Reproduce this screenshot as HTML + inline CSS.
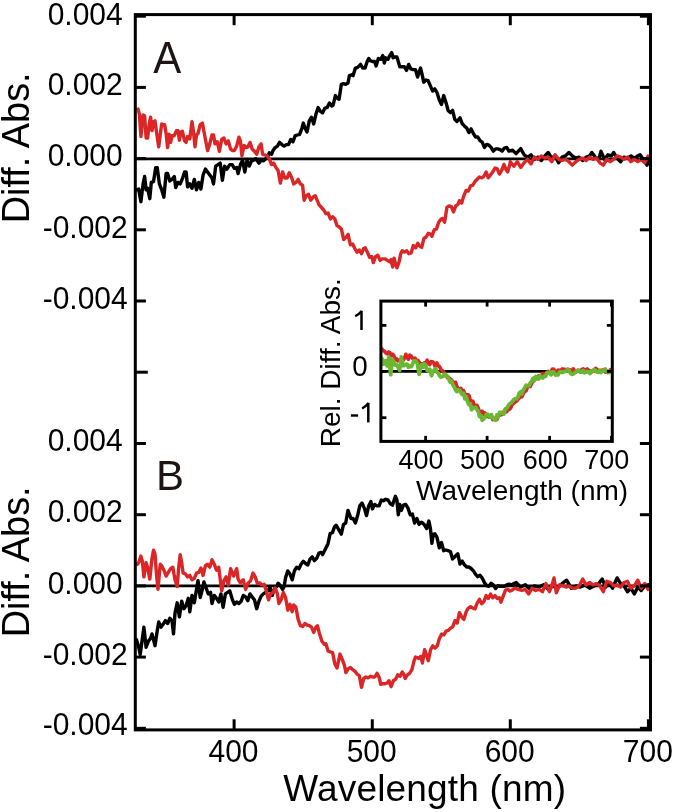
<!DOCTYPE html>
<html><head><meta charset="utf-8"><style>
html,body{margin:0;padding:0;background:#fff;}
body{width:675px;height:812px;overflow:hidden;}
svg{display:block;will-change:transform;}
text{font-family:"Liberation Sans",sans-serif;fill:#000;}
.t30{font-size:30px;}
.t37{font-size:37px;}
.t37b{font-size:37.9px;}
.t27{font-size:27px;}
.t42{font-size:42px;fill:#1e1414;}
.t28{font-size:28px;}
</style></head><body>
<svg width="675" height="812" viewBox="0 0 675 812">
<line x1="135.3" y1="158.8" x2="650.5" y2="158.8" stroke="#000" stroke-width="2.8"/>
<line x1="135.3" y1="585.8" x2="650.5" y2="585.8" stroke="#000" stroke-width="2.8"/>
<polyline points="136.5,189.8 138.7,189.1 140.9,201.7 143.1,183.9 144.6,176.5 146.1,189.8 147.6,188.3 149.8,198.7 151.3,182.4 153.5,181.7 155.7,167.6 157.2,167.6 159.4,183.9 161.7,189.8 163.9,197.2 166.1,173.5 167.6,173.5 169.8,180.9 172.0,179.4 174.3,176.5 175.7,187.6 178.0,182.4 180.2,183.9 182.4,178.7 184.6,172.0 186.1,172.0 187.6,186.9 189.8,183.9 192.0,188.3 194.3,179.4 196.5,189.8 198.7,182.4 200.9,189.1 203.1,175.0 205.4,169.1 207.6,172.0 209.8,175.0 212.0,178.0 213.5,183.9 215.7,166.1 218.0,164.6 220.2,163.1 222.4,180.2 224.6,166.1 226.9,169.1 229.8,164.6 232.2,164.6 234.4,168.3 236.7,167.6 238.1,173.5 240.4,164.6 242.6,160.2 244.8,172.0 247.0,160.2 249.3,166.1 251.5,160.9 253.7,160.2 255.9,158.7 258.9,163.1 261.1,160.2 263.3,160.9 265.6,158.7 267.8,156.5 269.3,152.8 271.5,154.3 273.0,150.6 275.2,147.6 277.4,146.1 279.6,142.4 281.9,144.6 284.1,146.1 286.3,144.6 288.5,144.6 290.7,139.4 293.0,141.7 295.2,135.7 297.4,135.0 299.6,134.3 301.9,128.3 303.3,123.1 304.8,127.6 307.0,132.0 309.3,120.9 311.5,117.2 313.7,123.9 315.9,114.3 318.1,107.6 320.4,111.3 322.6,112.8 324.8,108.3 327.2,107.4 329.4,103.0 331.7,105.9 333.1,105.2 335.4,95.6 337.6,98.5 339.1,99.3 341.3,84.4 343.5,83.7 345.7,84.4 348.0,83.0 349.4,75.6 351.7,74.8 353.1,75.6 355.4,68.1 357.6,67.4 360.6,64.4 362.8,68.1 365.0,68.1 367.2,61.5 368.7,58.5 370.2,60.7 372.4,61.5 374.6,61.5 376.1,65.9 378.3,58.5 380.6,59.3 382.8,55.6 384.3,63.0 385.7,57.8 388.0,59.3 389.4,56.3 391.7,52.6 393.1,57.8 394.6,57.0 396.9,57.0 398.3,61.5 399.8,66.7 402.0,66.7 404.3,66.7 406.5,70.4 408.7,64.4 410.9,68.9 413.1,69.6 415.4,69.6 417.6,77.0 419.1,71.9 420.6,68.1 422.2,74.8 423.7,82.2 425.9,80.0 428.1,80.7 430.4,85.9 432.6,91.1 434.8,88.9 437.0,92.6 439.3,100.0 441.5,104.4 443.7,95.6 445.9,102.2 448.1,110.4 450.4,112.6 452.6,110.4 454.8,119.3 457.0,121.5 460.0,117.8 462.2,123.7 464.4,125.9 466.7,128.1 468.9,132.6 471.1,128.9 473.3,133.3 475.6,137.0 477.8,137.0 480.0,140.7 482.2,142.2 484.4,147.4 486.7,144.4 488.9,145.2 491.1,147.4 493.3,151.1 495.6,148.9 497.8,148.9 500.0,149.6 502.2,151.1 504.4,148.1 506.7,147.4 508.9,151.1 512.6,150.2 516.1,153.6 520.7,148.6 524.1,154.8 527.6,157.1 531.0,154.8 534.4,159.4 537.9,157.1 541.3,160.5 544.8,155.9 548.2,152.5 551.7,158.2 555.1,155.9 558.6,162.8 562.0,157.1 565.4,155.9 568.9,152.5 572.3,155.9 575.8,158.2 579.2,157.1 582.7,160.5 586.1,157.1 589.6,155.9 591.8,152.5 595.3,157.1 598.7,159.4 601.0,151.3 604.5,159.4 607.9,154.8 611.4,155.9 613.7,152.5 617.1,158.2 620.6,161.7 624.0,157.1 627.4,158.2 630.9,155.9 634.3,158.2 637.8,155.9 640.1,154.8 643.5,159.4 647.0,165.1 648.8,160.5" fill="none" stroke="#000" stroke-width="3.4" stroke-linejoin="round" stroke-linecap="round"/>
<polyline points="138.0,109.1 139.4,114.3 140.9,136.5 143.1,115.0 144.6,115.7 146.1,138.0 147.6,138.0 149.1,124.6 150.6,117.2 152.0,130.6 153.5,121.7 155.0,120.9 156.5,132.0 158.7,146.9 160.2,135.0 161.7,123.9 163.1,124.6 164.6,124.6 166.1,133.5 167.6,147.6 169.1,134.3 170.6,142.4 172.0,135.7 174.3,135.7 176.5,130.6 178.0,130.6 179.4,140.2 180.9,132.0 182.4,131.3 184.6,140.9 186.1,142.4 187.6,136.5 189.8,138.7 192.0,121.7 193.5,132.0 195.0,146.9 196.5,135.0 198.0,133.5 200.2,124.6 202.4,123.1 204.6,135.0 207.6,150.6 209.8,143.9 212.0,135.0 213.5,135.0 215.0,143.9 217.2,141.7 219.4,151.3 221.7,139.4 223.9,138.0 226.1,143.9 228.3,140.9 230.6,149.1 232.2,150.6 234.4,150.6 236.7,146.1 238.9,137.2 240.4,140.9 241.9,155.7 244.1,145.4 246.3,147.6 247.8,146.9 250.0,142.4 252.2,149.1 254.4,151.3 256.7,154.3 258.9,146.9 261.1,143.9 262.6,154.3 264.8,155.0 267.0,155.7 269.3,158.7 271.5,164.6 273.7,163.1 275.9,167.6 278.1,170.6 280.4,183.1 282.6,172.0 284.8,178.0 287.0,178.0 289.3,172.8 291.5,177.2 293.7,183.9 295.9,182.4 298.1,179.4 300.4,183.9 302.6,185.4 304.1,200.2 306.3,195.7 308.5,194.3 310.7,200.2 313.0,197.2 315.2,195.7 317.4,200.9 318.9,204.6 323.7,210.0 325.9,213.7 328.1,213.0 330.4,218.9 332.6,216.7 334.8,218.9 337.0,225.6 339.3,227.0 341.5,229.3 343.7,239.6 345.9,237.4 348.1,234.4 350.4,244.8 352.6,244.1 354.8,248.5 357.0,252.2 359.3,250.0 361.5,253.7 363.7,248.5 365.2,247.8 367.4,252.2 369.6,257.4 371.9,256.7 373.3,262.6 375.6,256.7 377.8,255.2 380.0,260.4 382.2,258.9 385.2,258.9 387.4,260.4 389.6,261.9 391.1,259.6 392.6,267.0 394.1,258.1 395.6,264.1 397.0,267.8 399.3,261.1 400.7,253.7 402.2,250.7 404.4,252.2 406.7,250.7 408.9,253.7 411.1,253.0 413.3,245.6 415.6,247.8 417.8,243.3 419.4,245.9 421.7,247.4 423.9,238.5 426.1,237.0 428.3,233.3 430.6,234.1 432.0,236.3 434.3,229.6 436.5,228.9 438.7,222.2 440.9,219.3 442.4,218.5 444.6,222.2 446.9,207.4 449.1,205.9 451.3,206.7 453.5,211.9 455.7,205.9 458.0,204.4 459.4,200.7 461.7,203.0 463.9,195.6 466.1,190.4 468.3,191.1 470.6,185.9 472.8,185.2 475.0,181.5 477.2,179.3 479.4,177.0 481.7,177.8 483.9,176.3 486.1,171.9 488.3,177.8 490.6,174.8 492.8,171.9 495.0,168.1 497.2,168.9 499.4,174.1 501.7,170.4 503.9,164.4 506.1,169.6 507.6,171.9 509.8,164.4 510.3,161.7 513.8,166.3 517.2,161.7 520.7,167.4 524.1,162.8 527.6,159.4 531.0,164.0 534.4,157.1 537.9,159.4 541.3,155.9 544.8,158.2 548.2,157.1 551.7,161.7 555.1,154.8 558.6,159.4 562.0,160.5 565.4,159.4 568.9,161.7 572.3,165.1 575.8,161.7 579.2,159.4 582.7,158.2 586.1,160.5 589.6,157.1 593.0,159.4 596.4,158.2 599.9,162.8 603.3,165.1 606.8,159.4 610.2,161.7 613.7,159.4 617.1,155.9 620.6,157.1 624.0,159.4 627.4,157.1 630.9,161.7 634.3,159.4 637.8,161.7 641.2,159.4 644.7,162.8 648.1,155.9" fill="none" stroke="#da2626" stroke-width="3.4" stroke-linejoin="round" stroke-linecap="round"/>
<polyline points="136.5,639.8 138.7,647.2 140.2,654.6 142.4,638.3 143.9,627.2 146.1,647.2 148.3,641.3 150.6,638.3 152.0,633.9 153.5,639.8 155.0,645.7 157.2,630.9 158.7,622.0 160.9,627.2 163.1,624.3 165.4,620.6 167.6,623.5 169.8,618.3 172.0,620.6 173.5,633.9 175.0,613.1 177.2,602.8 179.4,616.9 181.7,601.3 183.9,608.7 186.1,605.7 188.3,598.3 189.8,611.7 192.0,595.4 194.3,602.8 196.5,589.4 198.0,580.6 200.2,597.6 202.4,589.4 203.9,582.0 206.1,588.0 208.3,593.9 210.6,592.4 212.0,603.5 214.3,595.4 216.5,598.3 218.7,602.0 220.9,593.9 223.1,607.2 225.4,593.9 227.6,592.4 229.8,590.9 232.2,599.1 234.4,604.3 236.7,602.0 238.9,603.5 241.1,601.3 243.3,595.4 245.6,596.9 247.8,600.6 250.0,593.9 252.2,596.9 254.4,599.8 256.7,608.7 258.9,601.3 261.1,596.1 263.3,593.9 265.6,592.4 267.8,590.9 270.0,587.2 272.2,595.4 274.4,588.7 276.7,586.5 278.1,583.2 280.4,585.7 282.6,589.4 284.1,586.5 285.6,577.6 287.8,570.9 290.0,573.9 292.2,579.8 294.4,570.9 296.7,567.2 298.9,568.7 301.1,564.3 303.3,561.3 305.6,563.5 307.8,565.0 310.0,559.1 312.2,556.9 314.4,560.6 316.7,558.3 318.9,553.1 321.1,552.4 322.6,554.6 324.8,550.2 328.0,543.7 330.2,533.3 332.4,532.6 334.6,526.7 336.1,525.2 338.3,528.9 341.3,534.1 343.5,524.4 345.7,523.0 348.0,510.4 349.4,514.1 350.9,518.5 353.1,518.5 355.4,523.0 357.6,515.6 359.8,505.9 362.0,503.0 364.3,508.1 366.5,515.6 368.7,505.9 370.9,501.5 372.4,508.9 374.6,504.4 376.9,505.9 379.1,505.9 381.3,500.0 383.5,500.7 385.7,499.3 388.0,500.0 390.2,503.7 392.4,505.2 393.9,500.7 395.4,496.3 396.9,500.0 398.3,514.8 399.8,504.4 401.3,510.4 403.5,505.2 405.7,504.4 408.0,508.1 410.2,514.8 412.4,514.1 414.6,523.0 416.9,518.5 419.1,524.4 421.3,522.2 422.2,522.6 424.4,524.8 426.7,528.5 428.9,521.1 430.4,528.5 431.9,543.3 433.3,534.4 434.8,533.7 437.0,537.4 439.3,547.8 441.5,542.6 443.7,550.7 445.9,550.0 448.1,550.7 450.4,551.5 452.6,558.9 454.8,556.7 457.8,553.7 460.0,564.1 462.2,561.1 464.4,564.8 466.7,567.0 468.9,567.0 471.1,568.5 473.3,570.7 475.6,574.4 477.8,576.7 480.0,575.2 482.2,578.1 484.4,582.6 486.7,585.6 488.9,586.3 491.1,583.3 493.3,584.8 495.6,588.5 497.8,585.6 500.0,586.3 502.2,586.3 504.4,586.3 506.7,584.8 508.9,584.1 511.5,584.8 516.1,582.5 520.7,587.1 525.3,584.8 529.9,589.4 534.4,585.9 539.0,587.1 543.6,584.8 548.2,589.4 552.8,585.9 557.4,588.2 562.0,583.6 566.6,580.2 571.2,588.2 575.8,585.9 580.4,587.1 585.0,584.8 589.6,588.2 594.1,585.9 598.7,583.6 602.2,579.0 605.6,587.1 609.1,582.5 612.5,588.2 617.1,577.9 620.6,583.6 624.0,585.9 627.4,591.7 630.9,588.2 634.3,594.0 637.8,587.1 641.2,590.5 644.7,585.9 648.1,584.8" fill="none" stroke="#000" stroke-width="3.4" stroke-linejoin="round" stroke-linecap="round"/>
<polyline points="137.2,564.3 138.7,562.8 140.9,556.1 142.4,561.3 143.9,576.9 146.1,562.8 147.6,567.2 149.8,579.1 152.0,558.3 153.5,550.2 155.0,553.9 156.5,574.6 158.0,589.4 160.2,564.3 161.7,565.7 163.9,570.2 166.1,576.1 168.3,572.4 170.6,568.7 172.8,567.2 175.0,579.8 177.2,586.5 178.7,567.2 180.2,554.6 181.7,562.8 183.1,573.1 185.4,573.9 187.6,576.9 189.8,575.4 192.0,579.8 194.3,578.3 196.5,573.1 198.7,572.4 200.9,568.0 203.1,575.4 205.4,565.7 207.6,564.3 209.8,567.2 212.0,559.8 214.3,564.3 216.5,570.2 218.7,567.2 220.2,579.1 221.7,590.9 223.9,580.6 226.1,576.9 228.3,585.0 230.6,568.7 233.7,576.1 236.7,568.7 238.1,579.1 240.4,582.8 243.3,579.8 245.6,589.4 247.8,583.5 250.7,580.6 253.0,573.1 255.2,576.9 257.4,583.5 259.6,582.8 261.9,585.0 264.1,584.3 266.3,590.9 268.5,599.8 270.7,593.9 273.0,592.4 275.2,588.0 277.4,593.9 278.9,603.5 281.1,599.8 283.3,592.4 285.6,597.6 287.8,610.2 290.0,604.3 292.2,611.7 293.7,605.0 295.9,607.2 298.1,619.1 300.4,625.7 302.6,626.5 304.8,623.5 307.0,625.0 309.3,625.7 311.5,627.2 313.7,632.4 315.9,627.2 317.4,625.7 319.6,633.9 321.9,641.3 322.2,641.5 324.4,644.4 325.9,643.7 328.1,651.1 330.4,651.9 332.6,652.6 334.8,663.7 337.0,668.1 340.0,654.1 342.2,659.3 344.4,665.2 345.9,672.6 348.1,668.9 350.4,667.4 352.6,669.6 354.8,671.1 357.0,674.1 359.3,675.6 361.5,687.4 363.7,678.5 365.9,677.0 368.1,677.8 370.4,676.3 372.6,677.0 374.8,677.0 377.0,673.3 379.3,677.8 380.7,684.4 383.0,683.7 385.2,683.7 387.4,683.0 388.9,680.7 391.1,686.7 393.3,680.7 395.6,679.3 397.8,674.8 400.0,676.3 402.2,671.9 403.7,674.1 405.2,678.5 407.4,674.8 409.6,673.3 411.9,669.6 414.1,660.7 415.6,657.0 417.8,657.8 418.7,658.5 420.9,656.3 422.4,663.0 424.6,649.6 426.1,654.1 428.3,660.7 430.6,649.6 432.8,645.9 435.0,648.1 437.2,645.9 439.4,638.5 441.7,634.1 443.9,634.8 446.1,631.1 448.3,630.4 450.6,628.1 452.8,626.7 455.0,620.7 457.2,623.0 459.4,612.6 461.7,617.0 463.9,619.3 466.1,611.9 468.3,608.1 470.6,606.7 472.8,608.1 475.0,608.9 477.2,603.0 479.4,599.3 481.7,603.7 483.9,601.5 486.1,595.6 488.3,598.5 490.6,594.1 492.8,597.8 495.0,595.6 497.2,598.5 499.4,597.8 500.9,602.2 503.1,596.3 505.4,590.4 507.6,588.9 509.8,591.1 511.5,590.5 514.9,588.2 518.4,589.4 521.8,590.5 525.3,589.4 528.7,594.0 532.1,588.2 535.6,590.5 539.0,589.4 542.5,591.7 545.9,583.6 549.4,591.7 551.7,585.9 554.0,577.9 556.3,592.8 559.7,584.8 563.1,585.9 566.6,587.1 568.9,585.9 572.3,588.2 575.8,588.2 579.2,585.9 582.7,579.0 586.1,584.8 589.6,582.5 593.0,584.8 596.4,583.6 599.9,585.9 603.3,591.7 606.8,581.3 610.2,582.5 613.7,585.9 617.1,584.8 620.6,587.1 624.0,582.5 627.4,581.3 630.9,588.2 634.3,585.9 637.8,580.2 641.2,588.2 644.7,583.6 648.1,589.4" fill="none" stroke="#da2626" stroke-width="3.4" stroke-linejoin="round" stroke-linecap="round"/>
<rect x="135.3" y="14.6" width="515.2" height="715.3" fill="none" stroke="#000" stroke-width="3.0"/>
<line x1="135.3" y1="16.2" x2="145.9" y2="16.2" stroke="#000" stroke-width="3"/>
<line x1="639.9" y1="16.2" x2="650.5" y2="16.2" stroke="#000" stroke-width="3"/>
<line x1="135.3" y1="87.4" x2="145.9" y2="87.4" stroke="#000" stroke-width="3"/>
<line x1="639.9" y1="87.4" x2="650.5" y2="87.4" stroke="#000" stroke-width="3"/>
<line x1="135.3" y1="158.6" x2="145.9" y2="158.6" stroke="#000" stroke-width="3"/>
<line x1="639.9" y1="158.6" x2="650.5" y2="158.6" stroke="#000" stroke-width="3"/>
<line x1="135.3" y1="229.8" x2="145.9" y2="229.8" stroke="#000" stroke-width="3"/>
<line x1="639.9" y1="229.8" x2="650.5" y2="229.8" stroke="#000" stroke-width="3"/>
<line x1="135.3" y1="301.0" x2="145.9" y2="301.0" stroke="#000" stroke-width="3"/>
<line x1="639.9" y1="301.0" x2="650.5" y2="301.0" stroke="#000" stroke-width="3"/>
<line x1="135.3" y1="372.2" x2="147.8" y2="372.2" stroke="#000" stroke-width="3"/>
<line x1="638.0" y1="372.2" x2="650.5" y2="372.2" stroke="#000" stroke-width="3"/>
<line x1="135.3" y1="443.5" x2="145.9" y2="443.5" stroke="#000" stroke-width="3"/>
<line x1="639.9" y1="443.5" x2="650.5" y2="443.5" stroke="#000" stroke-width="3"/>
<line x1="135.3" y1="514.7" x2="145.9" y2="514.7" stroke="#000" stroke-width="3"/>
<line x1="639.9" y1="514.7" x2="650.5" y2="514.7" stroke="#000" stroke-width="3"/>
<line x1="135.3" y1="585.9" x2="145.9" y2="585.9" stroke="#000" stroke-width="3"/>
<line x1="639.9" y1="585.9" x2="650.5" y2="585.9" stroke="#000" stroke-width="3"/>
<line x1="135.3" y1="657.1" x2="145.9" y2="657.1" stroke="#000" stroke-width="3"/>
<line x1="639.9" y1="657.1" x2="650.5" y2="657.1" stroke="#000" stroke-width="3"/>
<line x1="135.3" y1="728.3" x2="145.9" y2="728.3" stroke="#000" stroke-width="3"/>
<line x1="639.9" y1="728.3" x2="650.5" y2="728.3" stroke="#000" stroke-width="3"/>
<line x1="234.1" y1="14.6" x2="234.1" y2="25.2" stroke="#000" stroke-width="3"/>
<line x1="234.1" y1="719.3" x2="234.1" y2="729.9" stroke="#000" stroke-width="3"/>
<line x1="372.3" y1="14.6" x2="372.3" y2="25.2" stroke="#000" stroke-width="3"/>
<line x1="372.3" y1="719.3" x2="372.3" y2="729.9" stroke="#000" stroke-width="3"/>
<line x1="510.3" y1="14.6" x2="510.3" y2="25.2" stroke="#000" stroke-width="3"/>
<line x1="510.3" y1="719.3" x2="510.3" y2="729.9" stroke="#000" stroke-width="3"/>
<line x1="648.4" y1="14.6" x2="648.4" y2="25.2" stroke="#000" stroke-width="3"/>
<line x1="648.4" y1="719.3" x2="648.4" y2="729.9" stroke="#000" stroke-width="3"/>
<text transform="translate(85.2 24.9) scale(1 1.05)" text-anchor="middle" class="t30">0.004</text>
<text transform="translate(85.2 95.1) scale(1 1.05)" text-anchor="middle" class="t30">0.002</text>
<text transform="translate(85.2 166.3) scale(1 1.05)" text-anchor="middle" class="t30">0.000</text>
<text transform="translate(85.2 237.5) scale(1 1.05)" text-anchor="middle" class="t30">-0.002</text>
<text transform="translate(85.2 308.5) scale(1 1.05)" text-anchor="middle" class="t30">-0.004</text>
<text transform="translate(85.2 451.3) scale(1 1.05)" text-anchor="middle" class="t30">0.004</text>
<text transform="translate(85.2 522.4) scale(1 1.05)" text-anchor="middle" class="t30">0.002</text>
<text transform="translate(85.2 593.6) scale(1 1.05)" text-anchor="middle" class="t30">0.000</text>
<text transform="translate(85.2 664.7) scale(1 1.05)" text-anchor="middle" class="t30">-0.002</text>
<text transform="translate(85.2 735.4) scale(1 1.05)" text-anchor="middle" class="t30">-0.004</text>
<text transform="translate(233.5 762) scale(1 1.05)" text-anchor="middle" class="t30">400</text>
<text transform="translate(371.7 762) scale(1 1.05)" text-anchor="middle" class="t30">500</text>
<text transform="translate(509.7 762) scale(1 1.05)" text-anchor="middle" class="t30">600</text>
<text transform="translate(647.8 762) scale(1 1.05)" text-anchor="middle" class="t30">700</text>
<text x="283.3" y="801" class="t37" letter-spacing="0.17">Wavelength (nm)</text>
<text transform="translate(29 223.3) rotate(-90)" x="0" y="0" class="t37b">Diff. Abs.</text>
<text transform="translate(29 637.3) rotate(-90)" x="0" y="0" class="t37b">Diff. Abs.</text>
<text transform="translate(153.3 73) scale(1 1.04)" class="t42">A</text>
<text x="156" y="490" class="t42">B</text>
<line x1="380.9" y1="371.4" x2="612.3" y2="371.4" stroke="#000" stroke-width="2.8"/>
<polyline points="381.8,348.8 383.1,350.8 384.4,351.1 385.8,352.8 387.1,353.8 388.4,352.1 389.8,352.4 391.1,355.9 392.4,354.2 393.8,355.4 395.1,359.7 396.4,358.6 397.8,360.8 399.1,359.9 400.4,361.0 401.8,358.7 403.1,360.1 404.4,358.3 405.8,354.3 407.1,357.4 408.4,359.3 409.8,355.2 411.1,356.1 412.4,358.1 413.8,359.7 415.1,358.2 416.4,360.9 417.8,360.3 419.1,362.2 420.4,363.7 421.8,363.9 423.1,364.7 424.4,362.7 425.8,362.9 427.1,360.2 428.4,363.4 429.8,364.6 431.1,361.6 432.4,361.7 433.8,362.9 435.1,366.7 436.9,362.9 438.2,365.8 439.6,366.8 440.9,369.4 442.2,370.7 443.6,371.9 444.9,374.1 446.2,375.4 447.6,378.0 448.9,377.6 450.2,379.0 451.6,380.0 452.9,381.9 454.2,382.4 455.6,382.3 456.9,386.7 458.2,388.9 459.6,389.1 460.9,388.3 462.2,390.6 463.6,390.5 464.9,394.1 466.2,394.5 467.6,394.7 468.9,395.2 470.2,400.0 471.6,402.3 472.9,401.1 474.2,406.0 475.6,405.4 476.9,405.3 478.2,408.1 479.6,412.1 480.9,413.4 482.2,411.2 483.6,414.2 484.9,412.9 486.2,416.4 487.6,415.8 488.8,417.2 490.0,416.8 491.4,416.4 492.8,419.7 494.2,418.4 495.6,418.9 496.9,419.5 498.3,416.0 499.7,415.2 501.1,414.7 502.5,414.3 503.9,411.4 505.3,409.8 506.7,411.8 508.1,408.3 509.4,409.3 510.8,407.7 512.2,404.4 513.6,403.3 515.0,402.1 516.4,401.2 517.8,399.6 519.2,398.1 520.6,396.9 521.9,396.8 523.3,393.7 524.7,391.6 526.1,390.8 527.5,387.2 528.9,385.5 530.3,386.5 531.7,383.1 533.1,381.6 534.4,378.0 535.8,378.8 537.2,378.7 538.6,375.9 540.0,377.5 541.4,376.6 542.8,373.5 544.2,374.7 545.6,373.2 546.9,373.3 548.3,371.4 549.7,372.0 551.1,371.5 552.5,369.0 553.9,369.3 555.3,371.9 556.7,373.2 558.1,370.1 559.4,370.4 560.8,370.4 562.2,368.9 563.6,369.3 565.0,369.4 566.4,369.8 567.8,370.9 569.2,369.8 570.6,370.1 571.9,371.6 573.3,368.8 574.7,371.1 576.1,371.9 577.5,370.5 578.9,370.4 580.3,372.2 581.7,369.6 583.1,368.9 584.4,369.4 585.8,370.8 587.2,369.0 588.6,370.3 590.0,370.8 591.4,372.3 592.8,370.3 594.2,371.4 595.6,368.4 596.9,369.2 598.3,370.7 599.7,371.8 601.1,370.4 602.5,370.0 603.9,370.0 605.3,372.1 606.7,371.2 607.9,372.6 609.1,371.8 610.4,369.6" fill="none" stroke="#da2626" stroke-width="3.6" stroke-linejoin="round" stroke-linecap="round"/>
<polyline points="381.8,358.3 383.6,364.1 385.3,360.8 387.1,365.9 388.9,357.0 390.7,374.7 392.4,359.4 393.8,362.1 395.1,365.0 396.4,364.6 397.8,366.6 399.6,370.4 401.3,356.8 403.1,365.6 404.4,365.5 405.8,364.3 407.1,364.2 408.4,367.3 409.8,365.7 411.1,366.6 412.4,364.7 413.8,360.8 415.6,360.8 417.3,363.4 419.1,374.3 420.4,368.7 421.8,364.6 423.1,367.3 424.4,363.7 425.8,365.5 427.1,370.5 428.4,370.9 429.8,369.3 431.6,375.7 432.9,371.7 434.2,370.1 435.6,368.5 436.9,372.1 438.2,372.8 439.6,375.7 440.9,377.2 442.2,376.5 443.6,375.9 444.9,374.2 446.2,375.4 447.6,376.4 448.9,379.2 450.2,382.2 451.6,381.0 452.9,385.2 454.2,386.9 455.6,389.9 456.9,391.6 458.2,389.7 459.6,390.3 460.9,392.4 462.2,394.6 463.6,393.3 464.9,398.9 466.2,396.7 467.6,401.9 468.9,404.6 470.2,403.8 471.6,409.7 472.9,407.4 474.2,407.9 475.6,407.3 476.9,409.2 478.2,411.5 479.6,416.6 480.9,415.6 482.2,420.2 483.6,419.1 484.9,417.4 486.2,414.5 487.6,414.1 488.8,415.4 490.0,417.1 491.4,414.7 492.8,417.9 494.2,419.0 495.6,420.2 496.9,414.9 498.3,416.9 499.7,412.4 501.1,412.5 502.5,413.2 503.9,414.0 505.3,408.8 506.7,408.4 508.1,405.9 509.4,404.0 510.8,403.1 512.2,401.6 513.6,399.8 515.0,398.7 516.4,398.7 517.8,397.6 519.2,393.2 520.6,391.8 521.9,393.9 523.3,390.1 524.7,387.8 526.1,385.2 527.5,385.8 528.9,385.8 530.3,382.9 531.7,381.3 533.1,378.4 534.4,380.6 535.8,376.5 537.2,377.9 538.6,378.9 540.0,375.5 541.4,377.5 542.8,378.0 544.2,376.2 545.6,376.4 546.9,372.6 548.3,373.1 549.7,371.9 551.1,374.8 552.5,372.0 553.9,372.2 555.3,375.0 556.7,374.8 558.1,374.9 559.4,372.2 560.8,371.9 562.2,372.4 563.6,371.9 565.0,371.5 566.4,371.1 567.8,369.1 569.2,370.5 570.6,373.5 571.9,374.3 573.3,373.9 574.7,372.9 576.1,371.7 577.5,370.2 578.9,370.5 580.3,372.2 581.7,372.1 583.1,370.4 584.4,372.7 585.8,372.2 587.2,371.4 588.6,372.2 590.0,373.5 591.4,370.9 592.8,371.4 594.2,369.6 595.6,370.5 596.9,372.2 598.3,372.3 599.7,370.2 601.1,372.4 602.5,371.2 603.9,370.9 605.3,369.0 606.7,371.7 608.1,370.9 609.4,372.4" fill="none" stroke="#6ab732" stroke-width="3.8" stroke-linejoin="round" stroke-linecap="round"/>
<rect x="380.9" y="301.1" width="231.39999999999998" height="140.29999999999995" fill="none" stroke="#000" stroke-width="3"/>
<line x1="380.9" y1="325.4" x2="386.4" y2="325.4" stroke="#000" stroke-width="2.8"/>
<line x1="606.8" y1="325.4" x2="612.3" y2="325.4" stroke="#000" stroke-width="2.8"/>
<line x1="380.9" y1="371.4" x2="386.4" y2="371.4" stroke="#000" stroke-width="2.8"/>
<line x1="606.8" y1="371.4" x2="612.3" y2="371.4" stroke="#000" stroke-width="2.8"/>
<line x1="380.9" y1="417.7" x2="386.4" y2="417.7" stroke="#000" stroke-width="2.8"/>
<line x1="606.8" y1="417.7" x2="612.3" y2="417.7" stroke="#000" stroke-width="2.8"/>
<line x1="425.6" y1="301.1" x2="425.6" y2="306.6" stroke="#000" stroke-width="2.8"/>
<line x1="425.6" y1="435.9" x2="425.6" y2="441.4" stroke="#000" stroke-width="2.8"/>
<line x1="487.1" y1="301.1" x2="487.1" y2="306.6" stroke="#000" stroke-width="2.8"/>
<line x1="487.1" y1="435.9" x2="487.1" y2="441.4" stroke="#000" stroke-width="2.8"/>
<line x1="549.6" y1="301.1" x2="549.6" y2="306.6" stroke="#000" stroke-width="2.8"/>
<line x1="549.6" y1="435.9" x2="549.6" y2="441.4" stroke="#000" stroke-width="2.8"/>
<line x1="611.4" y1="301.1" x2="611.4" y2="306.6" stroke="#000" stroke-width="2.8"/>
<line x1="611.4" y1="435.9" x2="611.4" y2="441.4" stroke="#000" stroke-width="2.8"/>
<text transform="translate(360 376) scale(1.03 1.08)" text-anchor="middle" class="t27">0</text>
<path d="M361.5 330.0V310.8" stroke="#000" stroke-width="2.5" fill="none"/><path d="M361.7 311.0Q359.3 314.1 355.2 316.3" stroke="#000" stroke-width="2.3" fill="none"/>
<path d="M368.3 422.4V402.8" stroke="#000" stroke-width="2.5" fill="none"/><path d="M368.5 403.0Q366.1 406.3 362.1 408.5" stroke="#000" stroke-width="2.3" fill="none"/>
<rect x="350.9" y="414.3" width="7.2" height="2.4" fill="#000"/>
<text transform="translate(421 468.7) scale(1 1.05)" text-anchor="middle" class="t27">400</text>
<text transform="translate(482.5 468.7) scale(1 1.05)" text-anchor="middle" class="t27">500</text>
<text transform="translate(545.3 468.7) scale(1 1.05)" text-anchor="middle" class="t27">600</text>
<text transform="translate(606.8 468.7) scale(1 1.05)" text-anchor="middle" class="t27">700</text>
<text x="416" y="500" class="t28">Wavelength (nm)</text>
<text transform="translate(340 447.3) rotate(-90)" x="0" y="0" class="t28">Rel. Diff. Abs.</text>
</svg>
</body></html>
